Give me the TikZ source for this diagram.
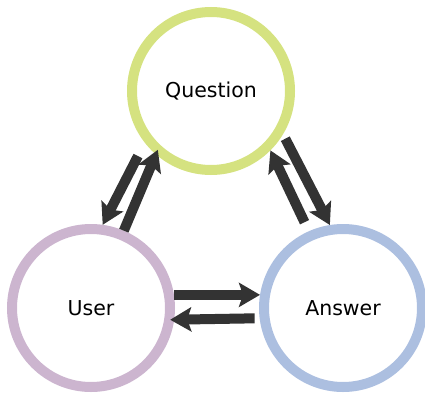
\documentclass[tikz,border=0pt]{standalone}
\usepackage{fontspec}
\setmainfont{DejaVu Sans}
\usepackage{xcolor}
\usepackage{tikz}
\usetikzlibrary{arrows.meta,positioning}
\definecolor{questionring}{RGB}{213, 226, 128}
\definecolor{userring}{RGB}{204, 181, 207}
\definecolor{answerring}{RGB}{172, 191, 224}
\definecolor{flowdark}{RGB}{51, 51, 51}
\tikzset{
    ring/.style={circle, line width=10pt, minimum size=158pt, inner sep=0pt, outer sep=5pt, font=\fontsize{20.5}{24}\selectfont},
    flow/.style={draw=flowdark, line width=10pt, -{Stealth[length=21pt, width=24pt, inset=4pt]}}
}

\begin{document}
\begin{tikzpicture}[x=1pt, y=-1pt]
    \useasboundingbox (0,0) rectangle (425,393);
    \node[ring, draw=questionring] (question) at (211,91) {Question};
    \node[ring, draw=userring] (user) at (91,308) {User};
    \node[ring, draw=answerring] (answer) at (343,308) {Answer};
    % question <-> user
    \draw[flow, shorten <=15pt] (question.218) -- (user.82);
    \draw[flow, shorten >=-5pt] (user.67) -- (question.229);
    % question <-> answer
    \draw[flow, shorten <=5pt] (question.329) -- (answer.99);
    \draw[flow, shorten <=10pt] (answer.114) -- (question.315);
    % user <-> answer
    \draw[flow] (user.9) -- (answer.171);
    \draw[flow, shorten <=5pt, shorten >=-4pt] (answer.187) -- (user.352);
\end{tikzpicture}
\end{document}
